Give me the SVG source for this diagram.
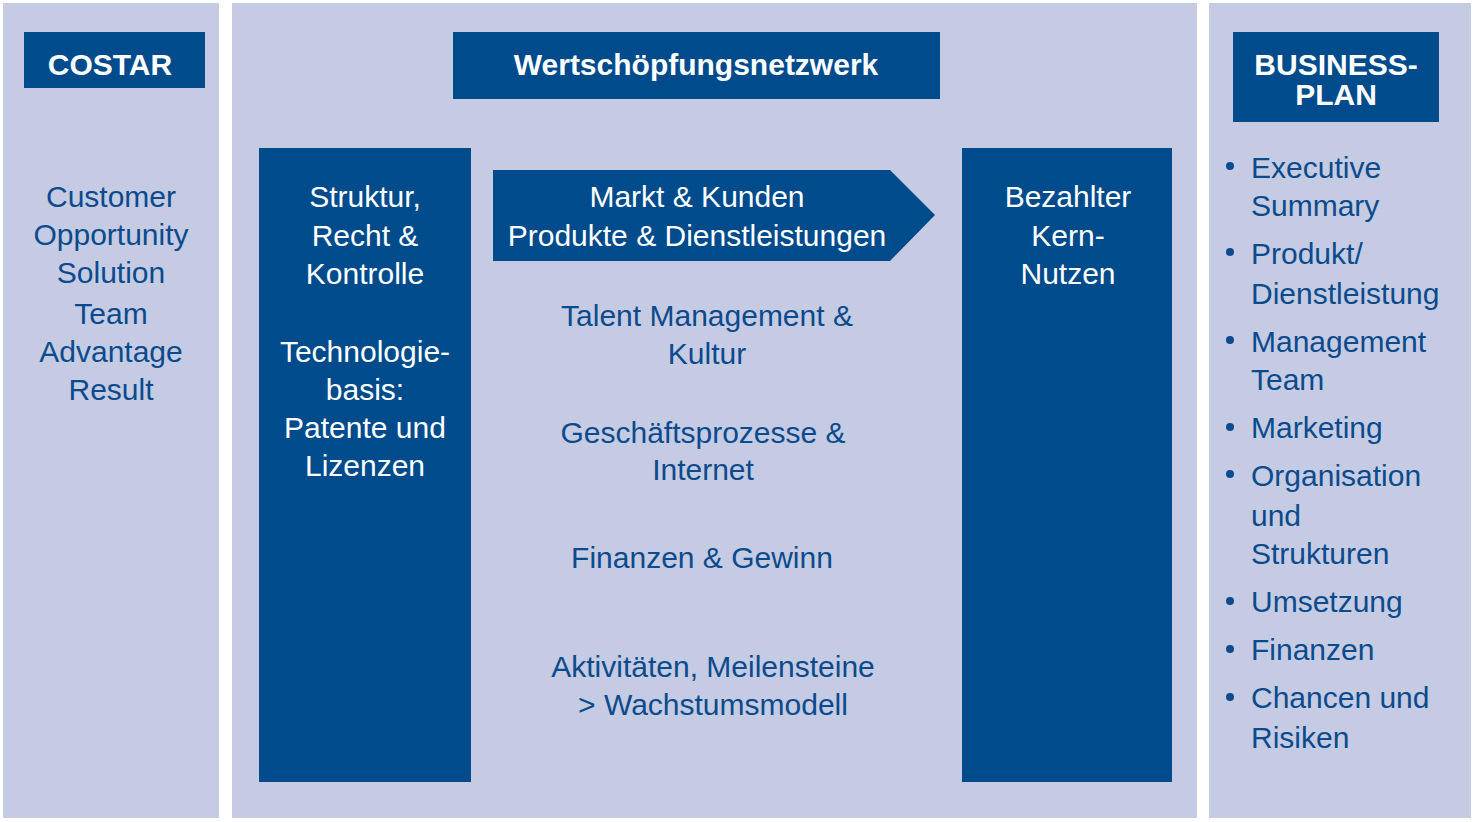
<svg xmlns="http://www.w3.org/2000/svg" width="1475" height="822" viewBox="0 0 1475 822">
<style>
.p{fill:#c5cbe3}.d{fill:#004b8c}
text{font-family:"Liberation Sans",Arial,sans-serif;font-size:30px;text-anchor:middle}
.h{font-weight:bold;fill:#fff;font-size:30px}
.w{fill:#fff}.b{fill:#0b4a8c}
.l{text-anchor:start}
</style>
<rect width="1475" height="822" fill="#fff"/>
<g id="costar">
<rect class="p" x="3" y="3" width="216" height="815"/>
<rect class="d" x="24" y="32" width="181" height="56"/>
<text class="h" x="110" y="75">COSTAR</text>
<text class="b" x="111" y="207">Customer</text>
<text class="b" x="111" y="245">Opportunity</text>
<text class="b" x="111" y="283">Solution</text>
<text class="b" x="111" y="324">Team</text>
<text class="b" x="111" y="362">Advantage</text>
<text class="b" x="111" y="400">Result</text>
</g>
<g id="netzwerk">
<rect class="p" x="232" y="3" width="965" height="815"/>
<rect class="d" x="453" y="32" width="487" height="67"/>
<text class="h" x="696" y="75">Wertschöpfungsnetzwerk</text>
</g>
<g id="struktur">
<rect class="d" x="259" y="148" width="212" height="634"/>
<text class="w" x="365" y="207">Struktur,</text>
<text class="w" x="365" y="246">Recht &amp;</text>
<text class="w" x="365" y="284">Kontrolle</text>
<text class="w" x="365" y="362">Technologie-</text>
<text class="w" x="365" y="400">basis:</text>
<text class="w" x="365" y="438">Patente und</text>
<text class="w" x="365" y="476">Lizenzen</text>
</g>
<g id="markt">
<polygon class="d" points="493,170 890,170 935,215 890,261 493,261"/>
<text class="w" x="697" y="207">Markt &amp; Kunden</text>
<text class="w" x="697" y="246">Produkte &amp; Dienstleistungen</text>
</g>
<g id="mitte">
<text class="b" x="707" y="326">Talent Management &amp;</text>
<text class="b" x="707" y="364">Kultur</text>
<text class="b" x="703" y="443">Geschäftsprozesse &amp;</text>
<text class="b" x="703" y="480">Internet</text>
<text class="b" x="702" y="568">Finanzen &amp; Gewinn</text>
<text class="b" x="713" y="677">Aktivitäten, Meilensteine</text>
<text class="b" x="713" y="715">&gt; Wachstumsmodell</text>
</g>
<g id="nutzen">
<rect class="d" x="962" y="148" width="210" height="634"/>
<text class="w" x="1068" y="207">Bezahlter</text>
<text class="w" x="1068" y="246">Kern-</text>
<text class="w" x="1068" y="284">Nutzen</text>
</g>
<g id="businessplan">
<rect class="p" x="1209" y="3" width="262" height="815"/>
<rect class="d" x="1233" y="32" width="206" height="90"/>
<text class="h" x="1336" y="75">BUSINESS-</text>
<text class="h" x="1336" y="105">PLAN</text>
<g class="b">
<circle cx="1230" cy="166" r="4"/><circle cx="1230" cy="252" r="4"/><circle cx="1230" cy="340" r="4"/><circle cx="1230" cy="427" r="4"/><circle cx="1230" cy="474" r="4"/><circle cx="1230" cy="601" r="4"/><circle cx="1230" cy="649" r="4"/><circle cx="1230" cy="697" r="4"/>
</g>
<text class="b l" x="1251" y="178">Executive</text>
<text class="b l" x="1251" y="216">Summary</text>
<text class="b l" x="1251" y="264">Produkt/</text>
<text class="b l" x="1251" y="304">Dienstleistung</text>
<text class="b l" x="1251" y="352">Management</text>
<text class="b l" x="1251" y="390">Team</text>
<text class="b l" x="1251" y="438">Marketing</text>
<text class="b l" x="1251" y="486">Organisation</text>
<text class="b l" x="1251" y="526">und</text>
<text class="b l" x="1251" y="564">Strukturen</text>
<text class="b l" x="1251" y="612">Umsetzung</text>
<text class="b l" x="1251" y="660">Finanzen</text>
<text class="b l" x="1251" y="708">Chancen und</text>
<text class="b l" x="1251" y="748">Risiken</text>
</g>
<g id="connectors"/>
</svg>
